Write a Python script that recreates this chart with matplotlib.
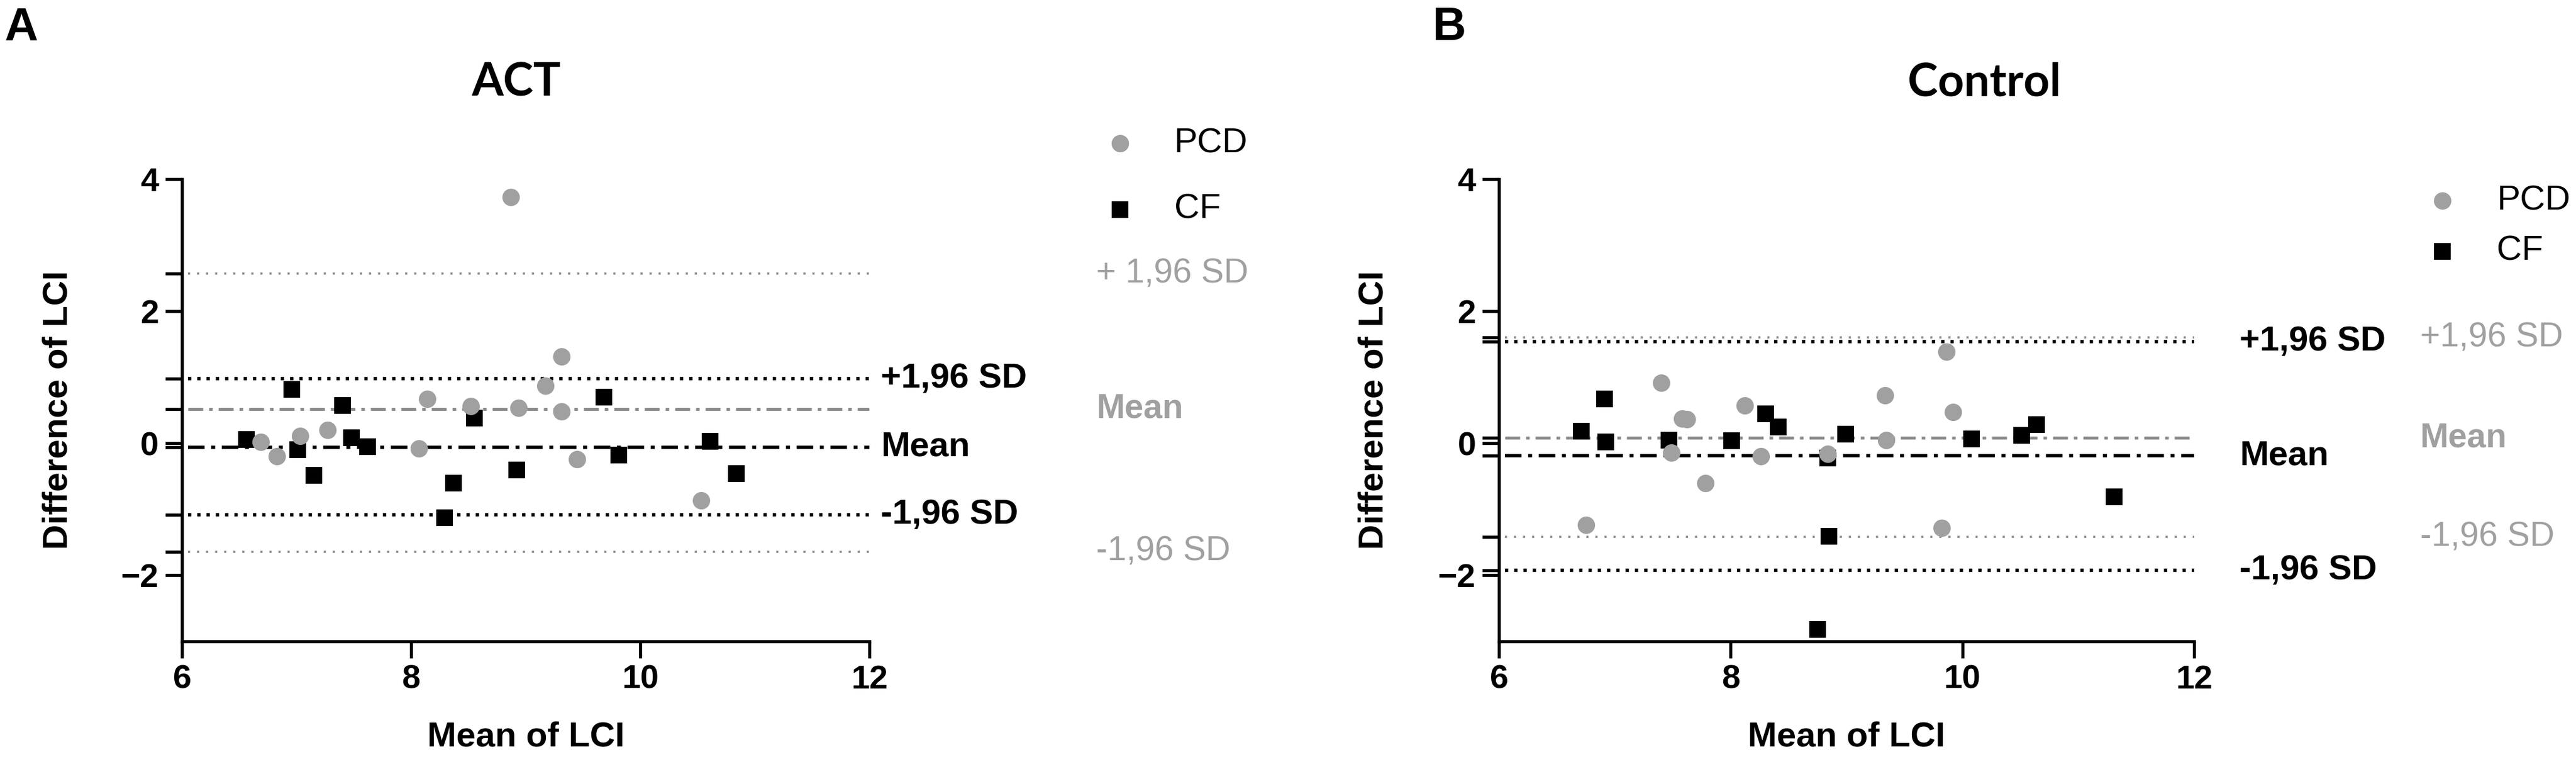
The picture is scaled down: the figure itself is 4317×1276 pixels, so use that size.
import matplotlib
matplotlib.use('Agg')
import matplotlib.pyplot as plt

# ACT panel
act_pcd_x = [6.69, 6.83, 7.03, 7.27, 8.07, 8.14, 8.52, 8.87, 8.94, 9.17, 9.31, 9.31, 9.45, 10.53]
act_pcd_y = [0.02, -0.20, 0.11, 0.20, -0.08, 0.67, 0.56, 3.73, 0.54, 0.87, 1.31, 0.48, -0.24, -0.87]
act_cf_x = [6.56, 6.96, 7.01, 7.15, 7.40, 7.48, 7.62, 8.29, 8.37, 8.55, 8.92, 9.68, 9.81, 10.61, 10.84]
act_cf_y = [0.06, 0.82, -0.10, -0.49, 0.57, 0.08, -0.05, -1.13, -0.60, 0.38, -0.40, 0.70, -0.18, 0.03, -0.46]
# limits of agreement: +1.96 SD, mean, -1.96 SD
act_pcd_loa = [2.57, 0.52, -1.64]
act_cf_loa = [0.98, -0.06, -1.08]

# Control panel
ctl_pcd_x = [6.75, 7.40, 7.49, 7.58, 7.62, 7.78, 8.12, 8.26, 8.84, 9.33, 9.34, 9.82, 9.86, 9.92]
ctl_pcd_y = [-1.24, 0.92, -0.14, 0.37, 0.36, -0.60, 0.57, -0.20, -0.16, 0.73, 0.05, -1.28, 1.39, 0.47]
ctl_cf_x = [6.71, 6.91, 6.92, 7.47, 8.01, 8.30, 8.41, 8.75, 8.84, 8.85, 8.99, 10.08, 10.51, 10.64, 11.31]
ctl_cf_y = [0.18, 0.67, 0.02, 0.05, 0.04, 0.45, 0.25, -2.82, -0.22, -1.41, 0.14, 0.07, 0.12, 0.28, -0.81]
ctl_pcd_loa = [1.60, 0.08, -1.42]
ctl_cf_loa = [1.54, -0.19, -1.92]

loa_labels = ['+1,96 SD', 'Mean', '-1,96 SD']
GREY = '#a0a0a0'
GREY_LINE = '#8a8a8a'

plt.rcParams['font.family'] = ['Liberation Sans', 'DejaVu Sans']

fig = plt.figure(figsize=(43.17, 12.76), dpi=100)


def draw_panel(rect, title, title_x, letter, letter_x,
               pcd_x, pcd_y, cf_x, cf_y, pcd_loa, cf_loa,
               grey_labels, black_lab_x, grey_lab_x, leg_x, leg_y):
    ax = fig.add_axes(rect)
    ax.set_xlim(6, 12)
    ax.set_ylim(-3, 4)

    # grey (PCD) lines
    ax.plot([6.05, 12.0], [pcd_loa[0]] * 2, color=GREY_LINE, lw=2.6,
            linestyle=(0, (1, 3.2)), zorder=2)
    ax.plot([6.05, 12.05], [pcd_loa[1]] * 2, color=GREY_LINE, lw=3.6,
            linestyle=(0, (5, 2, 1.2, 2)), zorder=2)
    ax.plot([6.05, 12.0], [pcd_loa[2]] * 2, color=GREY_LINE, lw=2.6,
            linestyle=(0, (1, 3.2)), zorder=2)
    # black (CF) lines
    ax.plot([6.05, 12.0], [cf_loa[0]] * 2, color='black', lw=4,
            linestyle=(0, (1, 1.8)), zorder=2)
    ax.plot([6.05, 12.05], [cf_loa[1]] * 2, color='black', lw=4,
            linestyle=(0, (5, 2, 1.2, 2)), zorder=2)
    ax.plot([6.05, 12.0], [cf_loa[2]] * 2, color='black', lw=4,
            linestyle=(0, (1, 1.8)), zorder=2)

    ax.plot(cf_x, cf_y, 's', color='black', ms=20, mew=0, zorder=3)
    ax.plot(pcd_x, pcd_y, 'o', color=GREY, ms=21, mew=0, zorder=4)

    # text next to the lines
    for val, lab in zip(cf_loa, loa_labels):
        ax.text(black_lab_x, val, lab, color='black', fontsize=42, fontweight='bold',
                ha='left', va='center', clip_on=False)
    for val, lab in zip(pcd_loa, grey_labels):
        ax.text(grey_lab_x, val, lab, color=GREY, fontsize=41,
                fontweight='bold' if lab == 'Mean' else 'normal',
                ha='left', va='center', clip_on=False)

    # legend
    ax.plot([leg_x], [leg_y[0]], 'o', color=GREY, ms=21, mew=0, clip_on=False)
    ax.plot([leg_x], [leg_y[1]], 's', color='black', ms=20, mew=0, clip_on=False)
    ax.text(leg_x + 0.47, leg_y[0], 'PCD', fontsize=42, ha='left', va='center')
    ax.text(leg_x + 0.47, leg_y[1], 'CF', fontsize=42, ha='left', va='center')

    for s in ['top', 'right']:
        ax.spines[s].set_visible(False)
    for s in ['left', 'bottom']:
        ax.spines[s].set_linewidth(3.8)
    ax.set_xticks([6, 8, 10, 12])
    ax.set_yticks([-2, 0, 2, 4])
    ax.set_yticks(pcd_loa + cf_loa, minor=True)
    ax.tick_params(which='both', length=20, width=3.8, pad=8)
    ax.tick_params(labelsize=40)
    for t in ax.get_xticklabels() + ax.get_yticklabels():
        t.set_fontweight('bold')

    ax.set_xlabel('Mean of LCI', fontsize=42, fontweight='bold')
    ax.xaxis.set_label_coords(0.5, -0.207)
    ax.xaxis.label.set_va('center')
    ax.set_ylabel('Difference of LCI', fontsize=42, fontweight='bold')
    ax.yaxis.set_label_coords(-0.18, 0.5)
    ax.yaxis.label.set_va('center')

    ax.text(title_x, 1.208, title, transform=ax.transAxes, fontsize=55,
            fontweight='bold', family='Lato', ha='center', va='center')
    fig.text(letter_x, 0.992, letter, fontsize=56, fontweight='bold',
             ha='left', va='top')
    return ax


draw_panel([0.07065, 0.1583, 0.26685, 0.6066], 'ACT', 0.486, 'A', 0.0016,
           act_pcd_x, act_pcd_y, act_cf_x, act_cf_y, act_pcd_loa, act_cf_loa,
           ['+ 1,96 SD', 'Mean', '-1,96 SD'], 12.1, 13.98, 14.19, [4.54, 3.54])

draw_panel([0.5819, 0.1583, 0.26986, 0.6066], 'Control', 0.698, 'B', 0.5562,
           ctl_pcd_x, ctl_pcd_y, ctl_cf_x, ctl_cf_y, ctl_pcd_loa, ctl_cf_loa,
           ['+1,96 SD', 'Mean', '-1,96 SD'], 12.39, 13.95, 14.14, [3.67, 2.91])

fig.savefig('out.png', dpi=100)
